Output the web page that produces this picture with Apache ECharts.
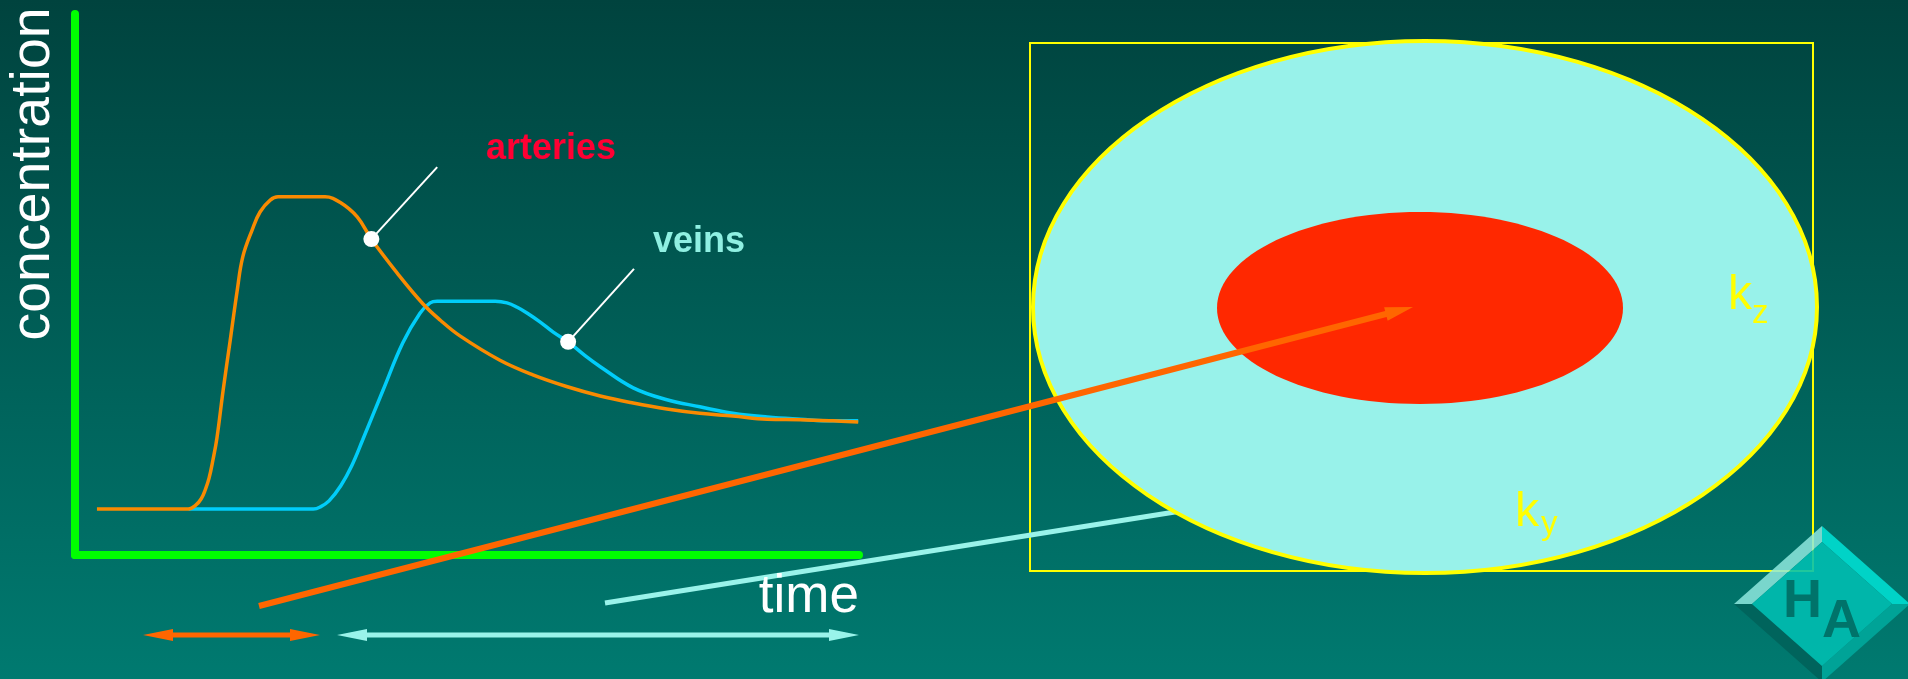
<!DOCTYPE html>
<html><head><meta charset="utf-8">
<script src="https://cdn.jsdelivr.net/npm/echarts@6/dist/echarts.min.js"></script>
<style>html,body{margin:0;padding:0;background:#005a52;overflow:hidden}#c{width:1908px;height:679px}</style>
</head><body><div id="c"></div>
<script>
// ---- data (time, concentration) in arbitrary units ----
const arteriesCurve = [[2.8,8.5],[14.5,8.5],[15.4,9.2],[16.1,10.4],[16.6,12.0],[17.1,14.2],[17.6,17.6],[18.1,21.6],[18.9,30.5],[19.8,39.7],[20.7,49.0],[21.4,55.1],[22.6,60.1],[23.6,63.4],[24.9,65.6],[25.9,66.2],[31.9,66.2],[33.8,65.2],[36.0,62.5],[37.8,58.4],[41.1,52.1],[44.4,46.4],[46.6,43.4],[49.1,40.5],[54.2,36.0],[58.4,33.3],[62.8,31.1],[67.0,29.4],[71.2,28.1],[75.5,27.0],[79.7,26.2],[83.9,25.7],[88.3,25.1],[92.5,25.0],[96.7,24.8],[99.9,24.6]];
const veinsCurve = [[14.5,8.5],[30.4,8.5],[31.3,8.9],[32.4,10.0],[33.9,12.8],[35.3,16.5],[36.7,21.3],[39.3,30.5],[41.8,39.2],[44.0,44.7],[45.3,46.6],[46.2,46.9],[53.6,46.9],[55.1,46.6],[56.4,45.8],[57.7,44.7],[59.3,43.1],[61.0,41.2],[62.9,39.4],[65.1,36.8],[67.0,34.8],[71.2,30.9],[75.5,28.7],[79.7,27.4],[83.9,26.2],[88.3,25.5],[92.5,25.1],[96.7,24.8],[99.9,24.8]];
const arteriesMarker = [[37.8,58.4]];
const veinsMarker = [[62.9,39.4]];
const arteriesPointer = [[37.8,58.4],[46.2,71.7]];
const veinsPointer = [[62.9,39.4],[71.3,52.9]];
const axisNames = ['concentration','time'];
const seriesNames = ['arteries','veins'];
const kzLabel = ['k','z'];
const kyLabel = ['k','y'];
const logoLetters = ['H','A'];

const FONT = '"Liberation Sans", Arial, sans-serif';

function arrowPts(x1,y1,x2,y2,w,L,H,both){
  const dx=x2-x1, dy=y2-y1, len=Math.hypot(dx,dy), ux=dx/len, uy=dy/len, nx=-uy, ny=ux;
  const bx=x2-ux*L, by=y2-uy*L;
  const ax=both?x1+ux*L:x1, ay=both?y1+uy*L:y1;
  const p=[[ax+nx*w/2,ay+ny*w/2],[bx+nx*w/2,by+ny*w/2],[bx+nx*H,by+ny*H],[x2,y2],[bx-nx*H,by-ny*H],[bx-nx*w/2,by-ny*w/2],[ax-nx*w/2,ay-ny*w/2]];
  if(both){p.push([ax-nx*H,ay-ny*H]);p.push([x1,y1]);p.push([ax+nx*H,ay+ny*H]);}
  return p;
}
function txt(x,y,text,font,fill,align,valign,rot){
  return {type:'text',x:x,y:y,rotation:rot||0,z:20,style:{text:text,font:font,fill:fill,textAlign:align||'left',textVerticalAlign:valign||'middle'}};
}
const O={T:[1822,526],R:[1910,604],B:[1822,682],L:[1734,604]};
const I={T:[1822,542],R:[1892,604],B:[1822,666],L:[1752,604]};

const chart = echarts.init(document.getElementById('c'), null, {renderer:'canvas'});
chart.setOption({
  animation:false,
  backgroundColor:{type:'linear',x:0,y:0,x2:0,y2:1,colorStops:[{offset:0,color:'#00433e'},{offset:1,color:'#007a70'}]},
  grid:{left:75,top:14,right:1049,bottom:124,containLabel:false},
  xAxis:{type:'value',min:0,max:100,axisLine:{show:true,lineStyle:{color:'#00ff00',width:8}},axisTick:{show:false},axisLabel:{show:false},splitLine:{show:false}},
  yAxis:{type:'value',min:0,max:100,axisLine:{show:true,lineStyle:{color:'#00ff00',width:8}},axisTick:{show:false},axisLabel:{show:false},splitLine:{show:false}},
  series:[
    {name:seriesNames[1],type:'line',data:veinsCurve,smooth:0.4,showSymbol:false,lineStyle:{color:'#00cdfa',width:3.5},z:3},
    {name:seriesNames[0],type:'line',data:arteriesCurve,smooth:0.4,showSymbol:false,lineStyle:{color:'#f98a00',width:3.5},z:4},
    {type:'line',data:arteriesPointer,showSymbol:false,lineStyle:{color:'#ffffff',width:2},z:5},
    {type:'line',data:veinsPointer,showSymbol:false,lineStyle:{color:'#ffffff',width:2},z:5},
    {type:'scatter',data:arteriesMarker.concat(veinsMarker),symbolSize:16,itemStyle:{color:'#ffffff',opacity:1},z:6}
  ],
  graphic:[
    {type:'rect',z:10,shape:{x:1030,y:43,width:783,height:528},style:{fill:null,stroke:'#ffff00',lineWidth:2}},
    {type:'polygon',z:10,shape:{points:arrowPts(605,603,1250,500,5,0.01,2.5,false)},style:{fill:'#99f3ea'}},
    {type:'ellipse',z:10,shape:{cx:1425,cy:307,rx:392,ry:266},style:{fill:'#98f2ea',stroke:'#ffff00',lineWidth:4}},
    {type:'ellipse',z:10,shape:{cx:1420,cy:308,rx:203,ry:96},style:{fill:'#ff2800'}},
    {type:'polygon',z:11,shape:{points:arrowPts(259,606,1413,307,6,28,7,false)},style:{fill:'#ff6600'}},
    {type:'polygon',z:11,shape:{points:arrowPts(143,635,320,635,5,30,6,true)},style:{fill:'#ff6600'}},
    {type:'polygon',z:11,shape:{points:arrowPts(337,635,859,635,5,30,6,true)},style:{fill:'#99f3ea'}},
    // logo
    {type:'group',z:12,children:[
      {type:'polygon',z:12,shape:{points:[O.L,O.T,I.T,I.L]},style:{fill:'#8ee8de',opacity:0.85}},
      {type:'polygon',z:12,shape:{points:[O.T,O.R,I.R,I.T]},style:{fill:'#00d3c7'}},
      {type:'polygon',z:12,shape:{points:[O.R,O.B,I.B,I.R]},style:{fill:'#00a397'}},
      {type:'polygon',z:12,shape:{points:[O.B,O.L,I.L,I.B]},style:{fill:'#00645c'}},
      {type:'polygon',z:12,shape:{points:[I.T,I.R,I.B,I.L]},style:{fill:'#00bfb3',opacity:0.88}}
    ]},
    txt(1783,602,logoLetters[0],'bold 54px '+FONT,'#00736a'),
    txt(1822,622,logoLetters[1],'bold 54px '+FONT,'#00736a'),
    // labels
    txt(34,174,axisNames[0],'55.5px '+FONT,'#ffffff','center','middle',Math.PI/2),
    txt(859,597,axisNames[1],'53px '+FONT,'#ffffff','right','middle'),
    txt(486,149,seriesNames[0],'bold 36px '+FONT,'#ff0033'),
    txt(653,242,seriesNames[1],'bold 36px '+FONT,'#8ff0e2'),
    txt(1728,296,kzLabel[0],'48px '+FONT,'#ffff00'),
    txt(1752,314,kzLabel[1],'33px '+FONT,'#ffff00'),
    txt(1515,513,kyLabel[0],'48px '+FONT,'#ffff00'),
    txt(1541,525,kyLabel[1],'33px '+FONT,'#ffff00')
  ]
});
</script></body></html>
